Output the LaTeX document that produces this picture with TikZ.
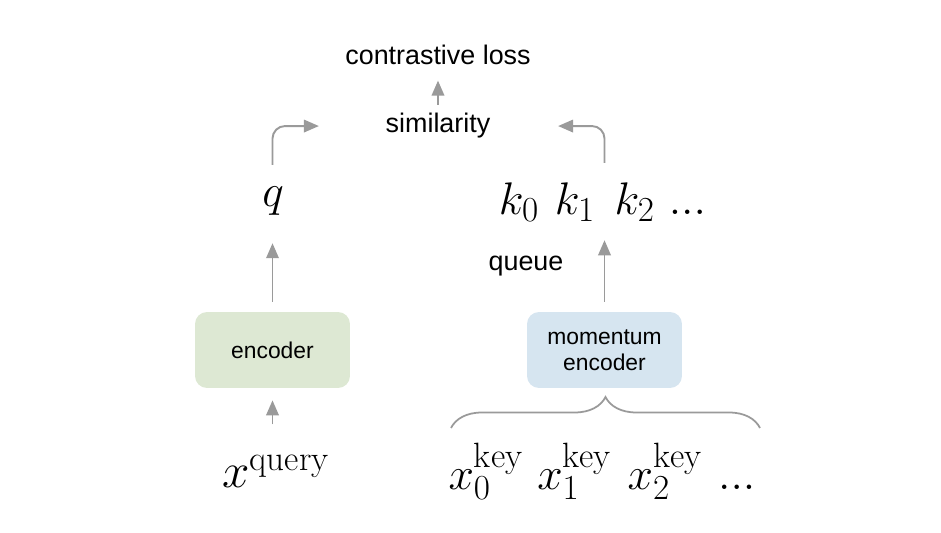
\documentclass[tikz,border=0pt]{standalone}
\usepackage{fix-cm}
\usepackage{fontspec}
\setsansfont{Liberation Sans}
\usetikzlibrary{arrows.meta,decorations.pathreplacing}
\DeclareMathSizes{26}{26}{20}{14}
\DeclareMathSizes{28}{28}{20}{14}
\definecolor{mocoGray}{HTML}{9A9A9A}
\definecolor{mocoGreen}{HTML}{DDE8D3}
\definecolor{mocoBlue}{HTML}{D6E5F0}

\begin{document}
\begin{tikzpicture}[
    x=0.02cm, y=-0.02cm,
    arrow/.style={-{Triangle[length=0.3cm,width=0.25cm]}, line width=1.1pt, color=mocoGray},
    encbox/.style={rounded corners=0.24cm, minimum width=3.1cm, minimum height=1.52cm,
                   align=center, font=\fontsize{13}{14.7}\sffamily, fill=#1},
    encbox/.default=mocoGreen,
    txt/.style={font=\fontsize{15.3}{18}\sffamily, inner sep=0pt, anchor=base},
    sym/.style={font=\fontsize{26}{30}\selectfont, inner sep=0pt, anchor=base}
]
    \useasboundingbox (0,0) rectangle (941,533);

    % --- loss on top ---
    \node[txt] (loss) at (438,65) {contrastive loss};
    \node[txt] (sim) at (438,133) {similarity};
    \draw[arrow, shorten <=0.17cm, shorten >=0.3cm] (sim.north) -- (loss.south);

    % --- query side ---
    \node[sym] (q) at (273,207) {$q$};
    \node[encbox=mocoGreen] (enc) at (272.5,350) {encoder};
    \node[sym, font=\fontsize{28}{32}\selectfont] (xq) at (276,488) {$x^{\mathrm{query}}$};
    \draw[arrow, shorten <=0.6cm, shorten >=0.24cm] (xq.north -| enc.south) -- (enc.south);
    \draw[arrow, shorten <=0.2cm, shorten >=0.54cm] (enc.north) -- (q.south -| enc.north);
    \draw[arrow, rounded corners=0.25cm, shorten <=0.44cm, shorten >=1.33cm] (q.north -| enc.north) |- (sim.west);

    % --- key side ---
    \node[sym] (keys) at (602.5,215) {$k_0\hspace{9pt}k_1\hspace{11pt}k_2\hspace{8pt}...$};
    \node[txt] (queue) at (526,271) {queue};
    \node[encbox=mocoBlue] (menc) at (604.5,350) {momentum\\encoder};
    \node[sym] (xkeys) at (602,490)
        {$x_0^{\mathrm{key}}\hspace{8pt}x_1^{\mathrm{key}}\hspace{9pt}x_2^{\mathrm{key}}\hspace{9pt}...$};
    \coordinate (bl) at (451,428);
    \coordinate (br) at (760,428);
    \draw[mocoGray, line width=1pt, decorate, decoration={brace, amplitude=0.62cm}] (bl) -- (br);
    \draw[arrow, shorten <=0.2cm, shorten >=0.36cm] (menc.north) -- (menc.north |- keys.south);
    \draw[arrow, rounded corners=0.25cm, shorten <=0.4cm, shorten >=1.35cm] (menc.north |- keys.north) |- (sim.east);
\end{tikzpicture}
\end{document}
